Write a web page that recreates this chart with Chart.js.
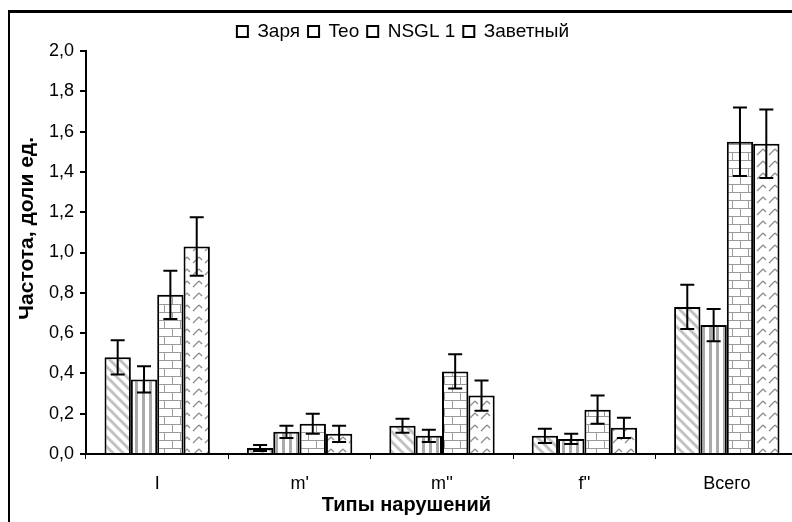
<!DOCTYPE html>
<html>
<head>
<meta charset="utf-8">
<script src="https://cdn.jsdelivr.net/npm/chart.js@4"></script>
<style>
  body { margin: 0; background: #fff; overflow: hidden; }
  #frame { position: absolute; left: 8px; top: 10px; width: 900px; height: 600px;
           border-left: 2px solid #000; border-top: 3px solid #000; }
  #wrap { position: absolute; left: 0; top: 0; width: 808px; height: 522px; }
</style>
</head>
<body>
<div id="frame"></div>
<div id="wrap"><canvas id="myChart"></canvas></div>
<script>
  // chart data
  const categories = ["I", "m'", "m''", "f''", "Всего"];
  const seriesNames = ["Заря", "Teo", "NSGL 1", "Заветный"];
  const zarya = [0.48, 0.03, 0.14, 0.09, 0.73];
  const zaryaErr = [0.085, 0.015, 0.035, 0.035, 0.11];
  const teo = [0.37, 0.11, 0.09, 0.075, 0.64];
  const teoErr = [0.065, 0.03, 0.03, 0.025, 0.08];
  const nsgl = [0.79, 0.15, 0.41, 0.22, 1.55];
  const nsglErr = [0.12, 0.05, 0.085, 0.07, 0.17];
  const zavetny = [1.03, 0.10, 0.29, 0.13, 1.54];
  const zavetnyErr = [0.145, 0.04, 0.075, 0.05, 0.17];
  const yTitle = "Частота, доли ед.";
  const xTitle = "Типы нарушений";

  //small canvas patterns for the bar fills
  function makePattern(w, h, draw) {
    const c = document.createElement("canvas");
    c.width = w;
    c.height = h;
    const g = c.getContext("2d");
    g.fillStyle = "#fff";
    g.fillRect(0, 0, w, h);
    draw(g);
    return g.createPattern(c, "repeat");
  }

  const ctx = document.getElementById("myChart").getContext("2d");

  // diagonal hatch "\"
  const hatchPattern = makePattern(10, 10, g => {
    g.strokeStyle = "#c2c2c2";
    g.lineWidth = 3;
    g.beginPath();
    g.moveTo(-5, -5); g.lineTo(15, 15);
    g.moveTo(-5, 5); g.lineTo(5, 15);
    g.moveTo(5, -5); g.lineTo(15, 5);
    g.stroke();
  });
  // vertical stripes
  const stripePattern = makePattern(7, 7, g => {
    g.fillStyle = "#ababab";
    g.fillRect(2, 0, 3, 7);
  });
  // bricks
  const brickPattern = makePattern(16, 16, g => {
    g.strokeStyle = "#9a9a9a";
    g.lineWidth = 1;
    g.beginPath();
    g.moveTo(0, 0.5); g.lineTo(16, 0.5);
    g.moveTo(0, 8.5); g.lineTo(16, 8.5);
    g.moveTo(4.5, 0); g.lineTo(4.5, 8);
    g.moveTo(12.5, 8); g.lineTo(12.5, 16);
    g.stroke();
  });
  // dashed zigzag "/"
  const zigPattern = makePattern(12, 12, g => {
    g.strokeStyle = "#8a8a8a";
    g.lineWidth = 1.2;
    g.beginPath();
    g.moveTo(1, 11); g.lineTo(7, 5);
    g.moveTo(7, 5); g.lineTo(10, 8);
    g.stroke();
  });

  const errors = [zaryaErr, teoErr, nsglErr, zavetnyErr];

  // draw error bars on top of the bars using the y scale
  const errorBarPlugin = {
    id: "errorBars",
    afterDatasetsDraw(chart) {
      const c = chart.ctx;
      const yScale = chart.scales.y;
      c.save();
      c.strokeStyle = "#000";
      c.lineWidth = 2;
      chart.data.datasets.forEach((ds, i) => {
        const meta = chart.getDatasetMeta(i);
        meta.data.forEach((bar, j) => {
          const v = ds.data[j];
          const e = errors[i][j];
          const top = yScale.getPixelForValue(v + e);
          const bottom = yScale.getPixelForValue(Math.max(0, v - e));
          c.beginPath();
          c.moveTo(bar.x, top); c.lineTo(bar.x, bottom);
          c.moveTo(bar.x - 7, top); c.lineTo(bar.x + 7, top);
          c.moveTo(bar.x - 7, bottom); c.lineTo(bar.x + 7, bottom);
          c.stroke();
        });
      });
      c.restore();
    }
  };

  // axis titles are off-centre in the original, so draw them here
  const titlesPlugin = {
    id: "axisTitles",
    afterDraw(chart) {
      const c = chart.ctx;
      c.save();
      c.fillStyle = "#000";
      c.textAlign = "center";
      c.textBaseline = "middle";
      // y title
      c.save();
      c.translate(27, chart.scales.y.getPixelForValue(1.12));
      c.rotate(-Math.PI / 2);
      c.font = "bold 21px 'Liberation Sans'";
      c.fillText(yTitle, 0, 0);
      c.restore();
      // x title
      c.font = "bold 20px 'Liberation Sans'";
      c.fillText(xTitle, chart.scales.x.getPixelForValue(1.75), 505);
      c.restore();
    }
  };

  const fills = [hatchPattern, stripePattern, brickPattern, zigPattern];
  const values = [zarya, teo, nsgl, zavetny];

  const myChart = new Chart(ctx, {
    type: "bar",
    data: {
      labels: categories,
      datasets: seriesNames.map((name, i) => ({
        label: name,
        data: values[i],
        backgroundColor: fills[i],
        borderColor: "#000",
        borderWidth: 2,
        barPercentage: 1.0,
        categoryPercentage: 0.74,
      })),
    },
    plugins: [errorBarPlugin, titlesPlugin],
    options: {
      responsive: true,
      maintainAspectRatio: false,
      animation: false,
      layout: { padding: { top: 14, right: 10, left: 8, bottom: 4 } },
      plugins: {
        tooltip: { enabled: false },
        legend: {
          position: "top",
          labels: {
            color: "#000",
            font: { family: "Liberation Sans", size: 19 },
            boxWidth: 11,
            boxHeight: 11,
            padding: 8,
            generateLabels: chart => chart.data.datasets.map((ds, i) => ({
              text: ds.label,
              fillStyle: "#fff",
              strokeStyle: "#000",
              lineWidth: 2,
              datasetIndex: i,
            })),
          },
        },
      },
      scales: {
        x: {
          afterFit: s => { s.height = 64; },
          grid: {
            offset: true,
            drawOnChartArea: false,
            color: "#000",
            tickLength: 5,
          },
          border: { color: "#000", width: 2 },
          ticks: {
            color: "#000",
            padding: 14,
            font: { family: "Liberation Sans", size: 18 },
          },
        },
        y: {
          min: 0,
          max: 2,
          afterFit: s => { s.width = 78; },
          grid: {
            drawOnChartArea: false,
            color: "#000",
            lineWidth: 2,
            tickLength: 6,
          },
          border: { color: "#000", width: 2 },
          ticks: {
            stepSize: 0.2,
            color: "#000",
            padding: 6,
            font: { family: "Liberation Sans", size: 18 },
            callback: v => v.toFixed(1).replace(".", ","),
          },
        },
      },
    },
  });
</script>
</body>
</html>
